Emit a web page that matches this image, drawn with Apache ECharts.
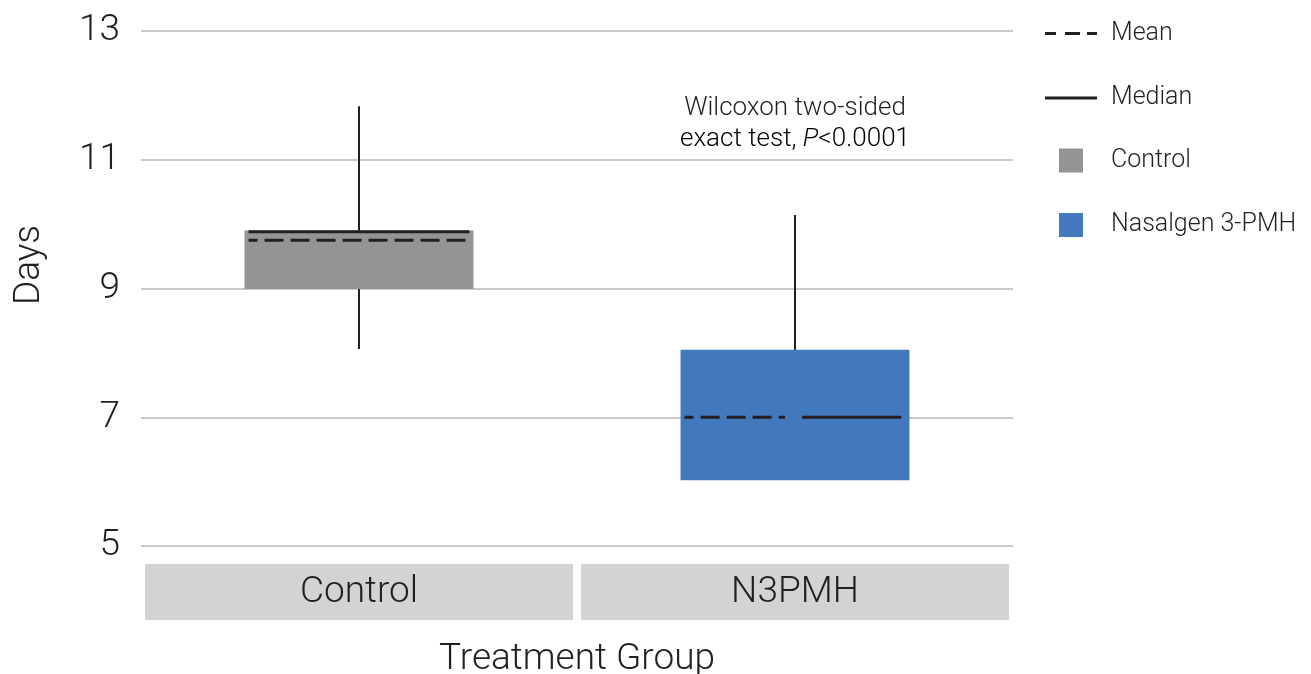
<!DOCTYPE html>
<html>
<head>
<meta charset="utf-8">
<title>Days by Treatment Group</title>
<script src="https://cdn.jsdelivr.net/npm/echarts@6.0.0/dist/echarts.min.js"></script>
<style>
  html, body { margin: 0; padding: 0; background: #ffffff; }
  #chart { width: 1311px; height: 674px; }
</style>
</head>
<body>
<div id="chart"></div>
<script>
// Box summaries per treatment group (days)
const categories = ['Control', 'N3PMH'];
const seriesNames = ['Control', 'Nasalgen 3-PMH'];
const whiskerLow = [8.06, 6.03];
const quartile1 = [9.0, 6.03];
const median = [9.88, 7.0];
const quartile3 = [9.9, 8.05];
const whiskerHigh = [11.83, 10.14];
const mean = [9.75, 7.0];
const yTicks = [5, 7, 9, 11, 13];

const INK = '#231f20';
const FONT = 'Roboto';
const boxColors = ['#949494', '#4279bc'];
const BOX_RATIO = 0.525;

function boxSeries(i) {
  return {
    name: seriesNames[i],
    type: 'custom',
    itemStyle: { color: boxColors[i] },
    data: [[i, whiskerLow[i], quartile1[i], quartile3[i], whiskerHigh[i]]],
    renderItem: function (params, api) {
      const c = api.value(0);
      const xc = api.coord([c, 0])[0];
      const half = api.size([1, 0])[0] * BOX_RATIO / 2;
      const yLow = api.coord([c, api.value(1)])[1];
      const yQ1 = api.coord([c, api.value(2)])[1];
      const yQ3 = api.coord([c, api.value(3)])[1];
      const yHigh = api.coord([c, api.value(4)])[1];
      // whisker runs behind the box; it is hidden inside it
      return {
        type: 'group',
        children: [
          {
            type: 'line',
            shape: { x1: xc, y1: yHigh, x2: xc, y2: yLow },
            style: { stroke: INK, lineWidth: 2 }
          },
          {
            type: 'rect',
            shape: { x: xc - half, y: yQ3, width: half * 2, height: yQ1 - yQ3 + 0.5 },
            style: { fill: boxColors[c] }
          }
        ]
      };
    }
  };
}

// Median (solid) and mean (dashed) lines; when both coincide they share the box width
function statLine(name, values, others, dashed) {
  return {
    name: name,
    type: 'custom',
    z: 5,
    itemStyle: { color: INK },
    data: values.map(function (v, i) { return [i, v, others[i]]; }),
    renderItem: function (params, api) {
      const c = api.value(0);
      const xc = api.coord([c, 0])[0];
      const half = api.size([1, 0])[0] * BOX_RATIO / 2;
      const y = api.coord([c, api.value(1)])[1];
      const overlap = Math.abs(api.value(1) - api.value(2)) < 0.02;
      let x1, x2;
      if (dashed) {
        x1 = xc - half + 4;
        x2 = overlap ? xc - 10 : xc + half - 4;
      } else {
        x1 = overlap ? xc + 7 : xc - half + 4;
        x2 = overlap ? xc + half - 8 : xc + half - 4;
      }
      const style = { stroke: INK, lineWidth: 3 };
      if (dashed) {
        style.lineDash = [19, 7];
        style.lineDashOffset = 10;
      }
      return {
        type: 'line',
        shape: { x1: x1, y1: y, x2: x2, y2: y },
        style: style
      };
    }
  };
}

const chart = echarts.init(document.getElementById('chart'), null, { renderer: 'canvas' });

const legendText = {
  fontFamily: FONT,
  fontWeight: 300,
  fontSize: 25,
  lineHeight: 24,
  color: INK
};

chart.setOption({
  animation: false,
  backgroundColor: '#ffffff',
  textStyle: { fontFamily: FONT },
  grid: { left: 141, right: 298, top: 31, bottom: 128, outerBoundsMode: 'none' },
  xAxis: {
    type: 'category',
    data: categories,
    axisLine: { show: false },
    axisTick: { show: false },
    splitLine: { show: false },
    axisLabel: {
      interval: 0,
      margin: 18,
      fontFamily: FONT,
      fontWeight: 300,
      fontSize: 37,
      color: INK,
      backgroundColor: '#d1d3d4',
      width: 428,
      height: 56,
      lineHeight: 58,
      align: 'center'
    },
    name: 'Treatment Group',
    nameLocation: 'middle',
    nameGap: 95,
    nameTextStyle: { fontFamily: FONT, fontWeight: 300, fontSize: 37, color: INK }
  },
  yAxis: {
    type: 'value',
    min: yTicks[0],
    max: yTicks[yTicks.length - 1],
    interval: yTicks[1] - yTicks[0],
    axisLine: { show: false },
    axisTick: { show: false },
    axisLabel: {
      margin: 21,
      fontFamily: FONT,
      fontWeight: 300,
      fontSize: 37,
      color: INK
    },
    splitLine: { lineStyle: { color: '#c9c9c9', width: 2 } }
  },
  legend: [
    {
      orient: 'vertical',
      left: 1040,
      top: 16,
      itemWidth: 52,
      itemHeight: 3,
      itemGap: 39.5,
      selectedMode: false,
      textStyle: Object.assign({ padding: [0, 0, 0, 9] }, legendText),
      data: [
        { name: 'Mean', icon: 'path://M0,0h11v3h-11z M20,0h15v3h-15z M42,0h10v3h-10z' },
        { name: 'Median', icon: 'path://M0,0h52v3h-52z' }
      ]
    },
    {
      orient: 'vertical',
      left: 1054,
      top: 143,
      itemWidth: 24,
      itemHeight: 24,
      itemGap: 39.5,
      selectedMode: false,
      textStyle: Object.assign({ padding: [0, 0, 0, 23] }, legendText),
      data: [
        { name: seriesNames[0], icon: 'rect' },
        { name: seriesNames[1], icon: 'rect' }
      ]
    }
  ],
  graphic: [
    {
      type: 'text',
      x: 30,
      y: 265,
      rotation: Math.PI / 2,
      style: {
        text: 'Days',
        fontFamily: FONT,
        fontWeight: 300,
        fontSize: 37,
        fill: INK,
        align: 'center',
        verticalAlign: 'middle'
      }
    },
    {
      type: 'text',
      x: 795,
      y: 108,
      style: {
        text: 'Wilcoxon two-sided',
        fontFamily: FONT,
        fontWeight: 300,
        fontSize: 26,
        fill: INK,
        align: 'center',
        verticalAlign: 'middle'
      }
    },
    {
      type: 'text',
      x: 795,
      y: 139,
      style: {
        text: '{n|exact test, }{i|P}{n|<0.0001}',
        align: 'center',
        verticalAlign: 'middle',
        rich: {
          n: { fontFamily: FONT, fontWeight: 300, fontSize: 26, color: INK },
          i: { fontFamily: FONT, fontWeight: 300, fontStyle: 'italic', fontSize: 26, color: INK }
        }
      }
    }
  ],
  series: [
    boxSeries(0),
    boxSeries(1),
    statLine('Median', median, mean, false),
    statLine('Mean', mean, median, true)
  ]
});
</script>
</body>
</html>
